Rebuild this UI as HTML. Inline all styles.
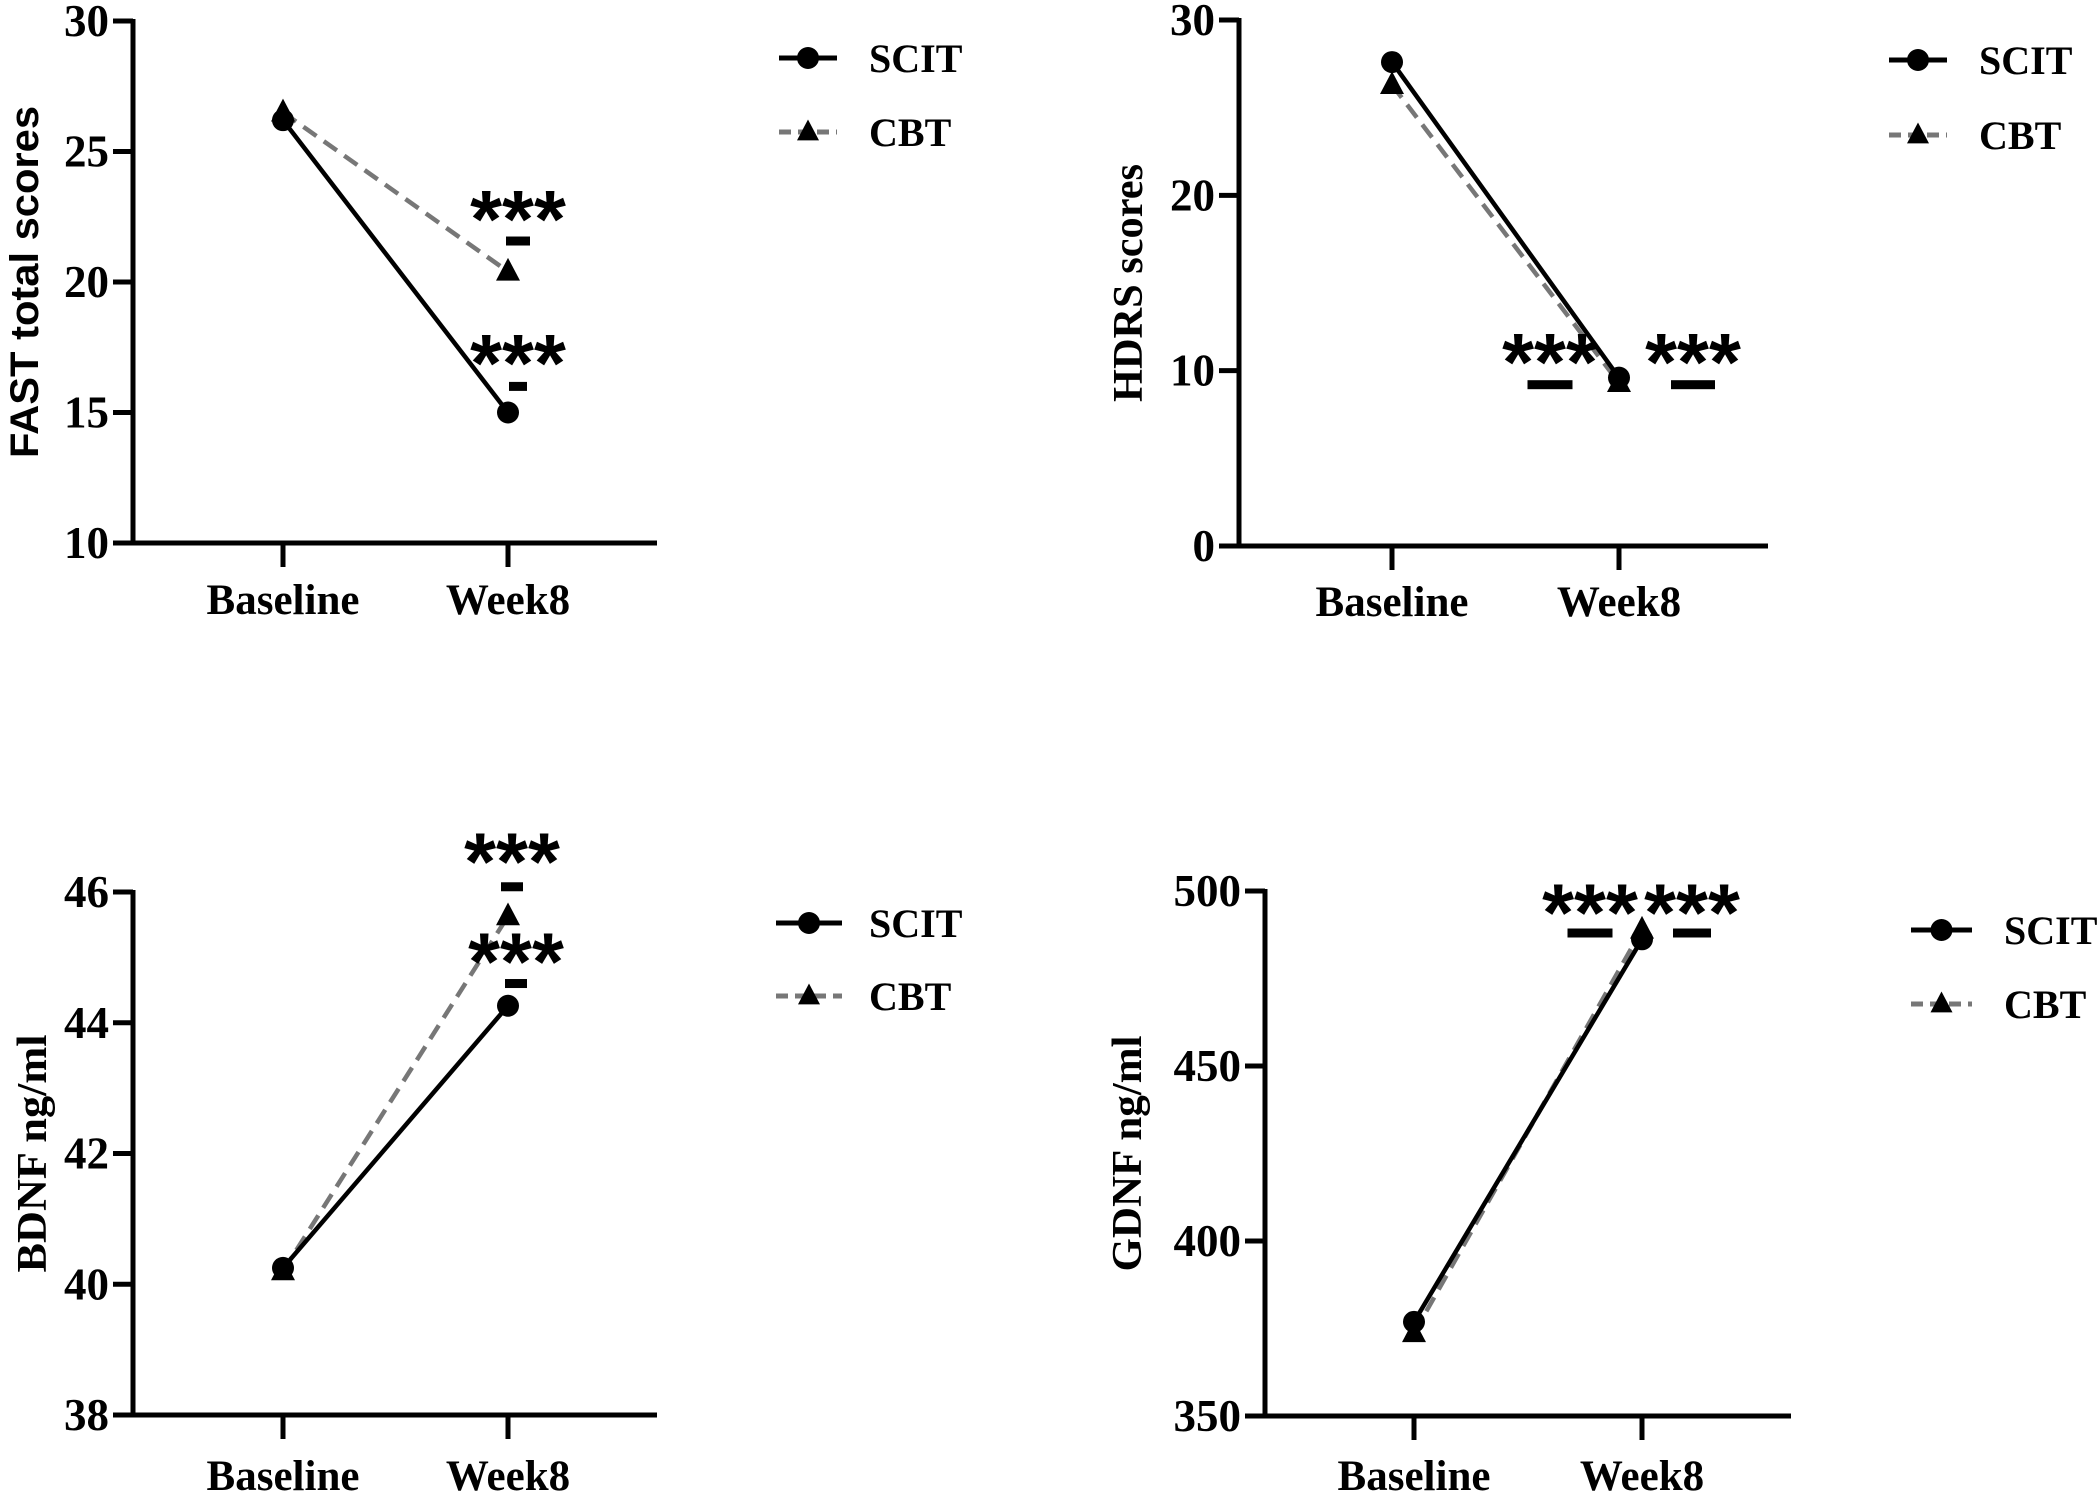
<!DOCTYPE html>
<html><head><meta charset="utf-8"><style>
body{margin:0;background:#fff}
svg{display:block}
.tk{font-family:"Liberation Serif",serif;font-weight:bold;font-size:40px}
.yt{font-family:"Liberation Serif",serif;font-weight:bold;font-size:45px}
.xt{font-family:"Liberation Serif",serif;font-weight:bold;font-size:43px}
</style></head><body>
<svg id="c" width="2097" height="1491" viewBox="0 0 2097 1491" xmlns="http://www.w3.org/2000/svg"></svg>
<script>
const categories = ["Baseline","Week8"];
const fastSCIT = [26.2, 15.0];
const fastCBT = [26.5, 20.4];
const hdrsSCIT = [27.6, 9.6];
const hdrsCBT = [26.3, 9.3];
const bdnfSCIT = [40.25, 44.26];
const bdnfCBT = [40.2, 45.63];
const gdnfSCIT = [376.9, 486.2];
const gdnfCBT = [373.7, 489];
const fastTicks = [10,15,20,25,30];
const hdrsTicks = [0,10,20,30];
const bdnfTicks = [38,40,42,44,46];
const gdnfTicks = [350,400,450,500];

const NS="http://www.w3.org/2000/svg";
const svg=document.getElementById('c');
function mk(tag,attrs,parent){const e=document.createElementNS(NS,tag);for(const k in attrs)e.setAttribute(k,attrs[k]);(parent||svg).appendChild(e);return e;}

const panels=[
 {name:'fast',title:'FAST total scores',sans:true,ax:133,x0:283,x1:508,xr:657,yt:21,yb:543,ticks:fastTicks,s:fastSCIT,c:fastCBT,
  tx:24,tlen:352,lab:614,leg:{l:779,r:837,y1:58,y2:132,t:869},
  ann:[{x:518,star:22.9,dash:21.57,dw:24},{x:518,star:17.37,dash:16.0,dw:18}]},
 {name:'hdrs',title:'HDRS scores',ax:1239,x0:1392,x1:1619,xr:1768,yt:20,yb:546,ticks:hdrsTicks,s:hdrsSCIT,c:hdrsCBT,
  tx:1128,tlen:238,lab:616,leg:{l:1889,r:1947,y1:60,y2:135,t:1979},
  ann:[{x:1550,star:11.2,dash:9.2,dw:45},{x:1693,star:11.2,dash:9.2,dw:44}]},
 {name:'bdnf',title:'BDNF ng/ml',ax:133,x0:283,x1:508,xr:657,yt:892,yb:1415,ticks:bdnfTicks,s:bdnfSCIT,c:bdnfCBT,
  tx:32,tlen:238,lab:1490,leg:{l:776,r:842,y1:923,y2:996,t:869},
  ann:[{x:512,star:46.66,dash:46.08,dw:22},{x:516,star:45.13,dash:44.6,dw:22}]},
 {name:'gdnf',title:'GDNF ng/ml',ax:1265,x0:1414,x1:1642,xr:1791,yt:891,yb:1416,ticks:gdnfTicks,s:gdnfSCIT,c:gdnfCBT,
  tx:1127,tlen:236,lab:1490,leg:{l:1911,r:1972,y1:930,y2:1004,t:2004},
  ann:[{x:1590,star:497.4,dash:488,dw:45},{x:1692,star:497.4,dash:488,dw:38}]}
];

function tri(g,x,y,size,name){
  const h=size*0.95;
  const p=mk('polygon',{points:`${x},${y-h*0.6} ${x-size/2},${y+h*0.4} ${x+size/2},${y+h*0.4}`,fill:'#000'},g);
  
  
}

panels.forEach(P=>{
  const g=mk('g',{});
  
  
  const lo=P.ticks[0],hi=P.ticks[P.ticks.length-1];
  const Y=v=>P.yb-(v-lo)/(hi-lo)*(P.yb-P.yt);
  const X=i=>i===0?P.x0:P.x1;
  const ya=mk('line',{x1:P.ax,y1:P.yt-2,x2:P.ax,y2:P.yb+2,stroke:'#000','stroke-width':5},g);
  
  const xa=mk('line',{x1:P.ax-2,y1:P.yb,x2:P.xr,y2:P.yb,stroke:'#000','stroke-width':5},g);
  
  P.ticks.forEach(t=>{
    const l=mk('line',{x1:P.ax-20,y1:Y(t),x2:P.ax,y2:Y(t),stroke:'#000','stroke-width':5},g);
    
    const tx=mk('text',{x:P.ax-24,y:Y(t)+15,'text-anchor':'end',class:'yt'},g);
    tx.textContent=t;
    
  });
  categories.forEach((c,i)=>{
    const l=mk('line',{x1:X(i),y1:P.yb,x2:X(i),y2:P.yb+24,stroke:'#000','stroke-width':5},g);
    
    const tx=mk('text',{x:X(i),y:P.lab,'text-anchor':'middle',class:'xt'},g);
    tx.textContent=c;
    
  });
  const cy=(P.yt+P.yb)/2;
  const tt=mk('text',{x:0,y:0,'text-anchor':'middle',transform:`translate(${P.tx+14},${cy}) rotate(-90)`,
    'font-family':P.sans?'"Liberation Sans",sans-serif':'"Liberation Serif",serif','font-weight':'bold','font-size':P.sans?40:42,
    textLength:P.tlen,lengthAdjust:'spacingAndGlyphs'},g);
  tt.textContent=P.title;
  
  const cl=mk('line',{x1:X(0),y1:Y(P.c[0]),x2:X(1),y2:Y(P.c[1]),stroke:'#777','stroke-width':4.5,'stroke-dasharray':'16 9'},g);
  
  const sl=mk('line',{x1:X(0),y1:Y(P.s[0]),x2:X(1),y2:Y(P.s[1]),stroke:'#000','stroke-width':4.5},g);
  
  P.s.forEach((v,i)=>{
    const c=mk('circle',{cx:X(i),cy:Y(v),r:11,fill:'#000'},g);
    
  });
  P.c.forEach((v,i)=>tri(g,X(i),Y(v),24,'cbt-point'));
  P.ann.forEach(a=>{
    const st=mk('text',{x:a.x,y:Y(a.star)+41,'text-anchor':'middle','font-family':'"Liberation Sans",sans-serif','font-weight':'bold','font-size':82},g);
    st.textContent='***';
    
    const d=mk('rect',{x:a.x-a.dw/2,y:Y(a.dash)-4.5,width:a.dw,height:9,fill:'#000'},g);
    
  });
  const L=P.leg,mid=(L.l+L.r)/2;
  const lg=mk('g',{},g);
  
  const l1=mk('line',{x1:L.l,y1:L.y1,x2:L.r,y2:L.y1,stroke:'#000','stroke-width':5},lg);
  
  const c1=mk('circle',{cx:mid,cy:L.y1,r:11,fill:'#000'},lg);
  
  const t1=mk('text',{x:L.t,y:L.y1+14,class:'tk'},lg);t1.textContent='SCIT';
  
  const l2=mk('line',{x1:L.l,y1:L.y2,x2:L.r,y2:L.y2,stroke:'#777','stroke-width':5,'stroke-dasharray':'12 7'},lg);
  
  tri(lg,mid,L.y2,22,'legend-cbt-marker');
  const t2=mk('text',{x:L.t,y:L.y2+14,class:'tk'},lg);t2.textContent='CBT';
  
});
</script>
</body></html>
